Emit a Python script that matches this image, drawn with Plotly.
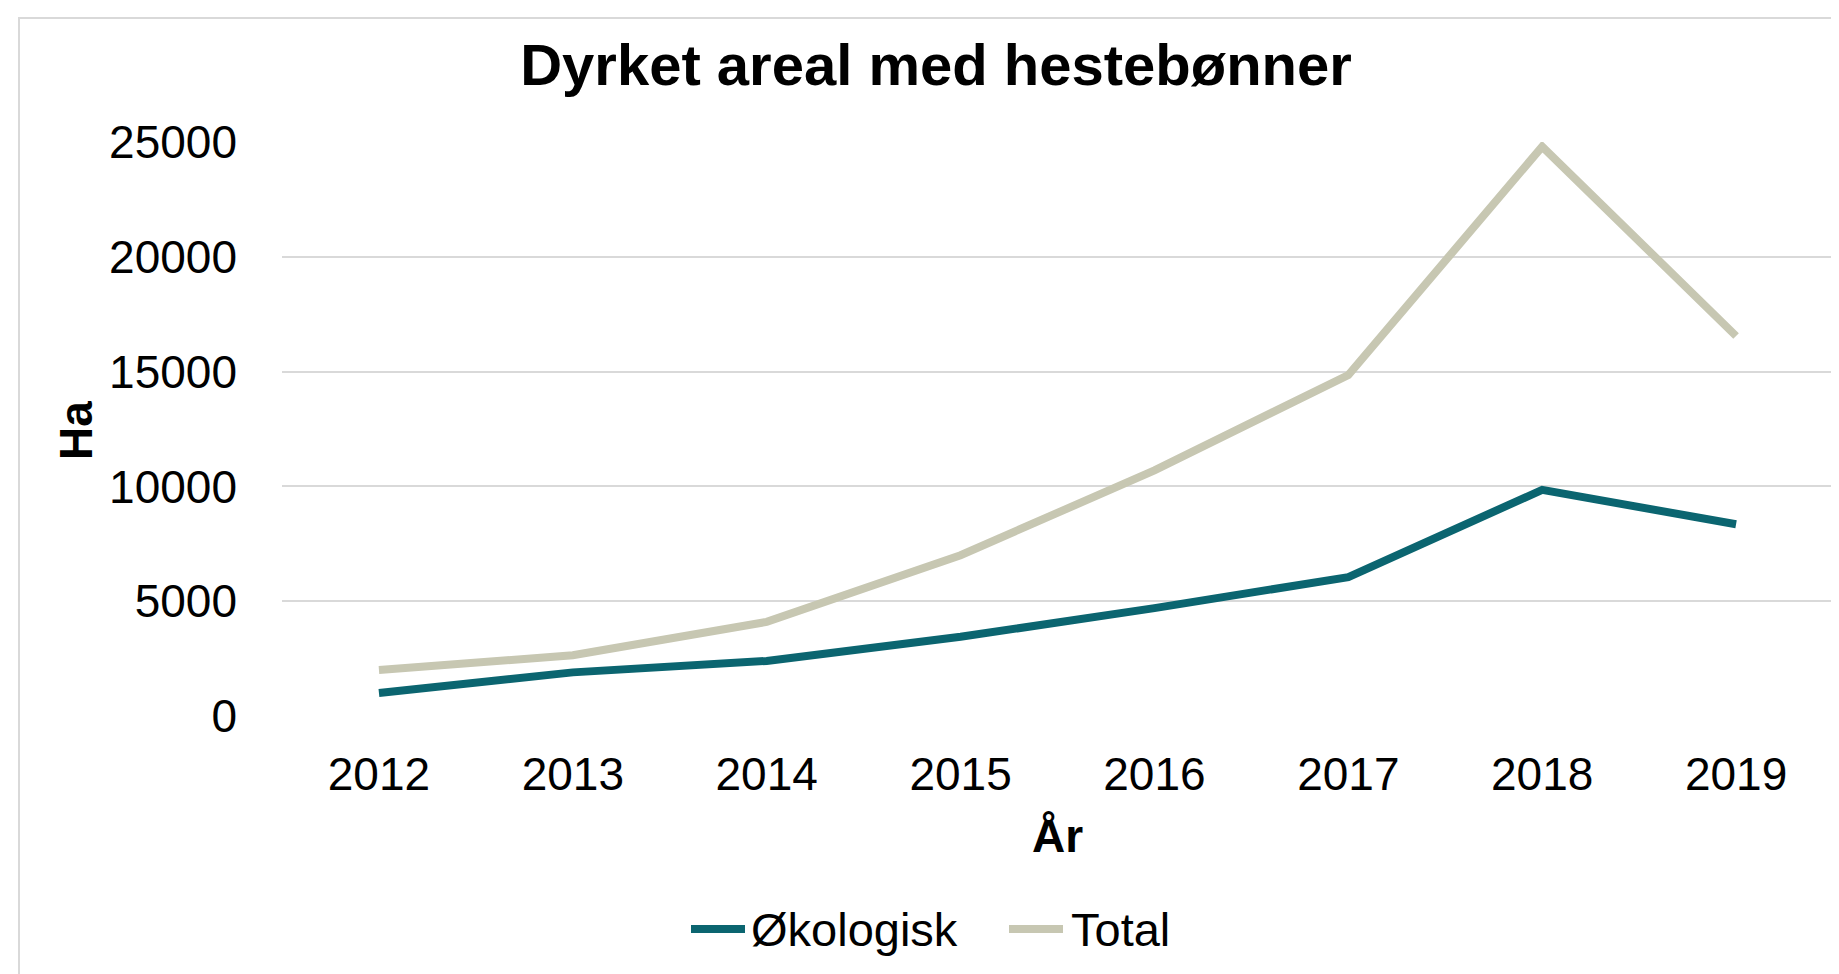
import plotly.graph_objects as go

years = ["2012", "2013", "2014", "2015", "2016", "2017", "2018", "2019"]
okologisk = [1000, 1900, 2400, 3450, 4700, 6050, 9850, 8350]
total = [2000, 2650, 4100, 7000, 10700, 14850, 24800, 16550]
y_ticks = [0, 5000, 10000, 15000, 20000, 25000]
series_names = ["Økologisk", "Total"]
series_colors = ["#0B6570", "#C7C7B2"]

W, H = 1839, 974
L, R, T, B = 274, 14, 134, 266
PW, PH = W - L - R, H - T - B

def px(x):
    return (x - L) / PW

def py(y):
    return (H - B - y) / PH

FONT = "Arial, Liberation Sans, sans-serif"

fig = go.Figure()
for name, vals, col in zip(series_names, [okologisk, total], series_colors):
    fig.add_trace(go.Scatter(x=years, y=vals, name=name, mode="lines",
                             line=dict(color=col, width=8), showlegend=False))

fig.update_layout(
    width=W, height=H,
    margin=dict(l=L, r=R, t=T, b=B),
    paper_bgcolor="white", plot_bgcolor="white",
    font=dict(family=FONT, size=46, color="black"),
    title=dict(text="<b>Dyrket areal med hestebønner</b>", x=928 / W, xref="container",
               xanchor="center", y=1 - 57 / H, yref="container", yanchor="middle",
               font=dict(size=58, family=FONT, color="black")),
    xaxis=dict(type="category", range=[-0.5, 7.5], showgrid=False, showline=False,
               zeroline=False, ticks="", tickfont=dict(size=46), ticklabelstandoff=27),
    yaxis=dict(range=[0, 25000], tickvals=y_ticks, ticktext=[str(v) for v in y_ticks],
               showgrid=True, gridcolor="#D9D9D9",
               gridwidth=2, zeroline=False, showline=False, ticks="",
               tickfont=dict(size=46), ticklabelstandoff=44),
    showlegend=False,
)

fig.add_annotation(text="<b>Ha</b>", xref="paper", yref="paper", x=px(68), y=py(422),
                   textangle=-90, showarrow=False, xanchor="center", yanchor="middle",
                   font=dict(size=46, family=FONT, color="black"))
fig.add_annotation(text="<b>År</b>", xref="paper", yref="paper", x=px(1049), y=py(828),
                   showarrow=False, xanchor="center", yanchor="middle",
                   font=dict(size=46, family=FONT, color="black"))

# legend (drawn manually to match sample length)
leg_y = 921
leg_items = [(683, 737, 741), (1001, 1055, 1061)]
for (x0, x1, xt), name, col in zip(leg_items, series_names, series_colors):
    fig.add_shape(type="line", xref="paper", yref="paper", x0=px(x0), x1=px(x1),
                  y0=py(leg_y), y1=py(leg_y), line=dict(color=col, width=8))
    fig.add_annotation(text=name, xref="paper", yref="paper", x=px(xt), y=py(leg_y),
                       showarrow=False, xanchor="left", yanchor="middle",
                       font=dict(size=47, family=FONT, color="black"))

fig.add_shape(type="rect", xref="paper", yref="paper", x0=px(11), y0=py(10),
              x1=px(1860), y1=py(1000), line=dict(color="#D9D9D9", width=2),
              fillcolor="rgba(0,0,0,0)", layer="below")

fig.write_html("out.html")
